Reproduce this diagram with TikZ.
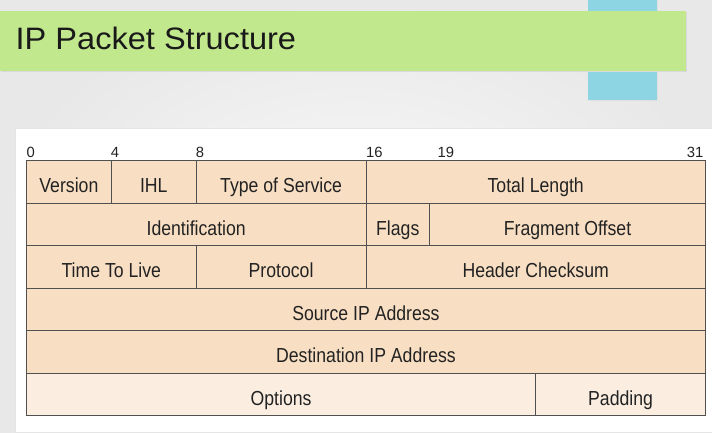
\documentclass[tikz,border=0pt]{standalone}
\usepackage{fontspec}
\setmainfont{Liberation Sans}
\newfontfamily\cellfont[FakeStretch=0.87]{Liberation Sans}
\newfontfamily\headfont[FakeStretch=1.05]{Liberation Sans}
\usetikzlibrary{positioning}

\definecolor{slidebg}{HTML}{E8E8E8}
\definecolor{slidemid}{HTML}{F8F8F8}
\definecolor{titlegreen}{HTML}{C2E88E}
\definecolor{accentblue}{HTML}{8ED5E3}
\definecolor{peach}{HTML}{F8DFC3}
\definecolor{lightpeach}{HTML}{FBEEE1}
\definecolor{cellline}{HTML}{505050}
\definecolor{celltext}{HTML}{222222}

% width of one bit column
\def\bw{21.21875}

\tikzset{
  cell/.style={draw=cellline, fill=peach, line width=0.9pt, anchor=north west,
    minimum height=42.5pt, inner sep=0pt, text height=22pt, text depth=0pt,
    text=celltext, font=\cellfont\fontsize{20.3pt}{24pt}\selectfont},
  optcell/.style={cell, fill=lightpeach},
  bitnum/.style={inner sep=0pt, text=celltext,
    font=\fontsize{14.8pt}{17pt}\selectfont},
  headline/.style={inner sep=0pt, text=black!90,
    font=\headfont\fontsize{31pt}{36pt}\selectfont},
}

\begin{document}
\begin{tikzpicture}[x=1pt, y=-1pt]
\useasboundingbox (0,0) rectangle (712,433);

% slide background
\shade[inner color=slidemid, outer color=slidebg] (0,0) rectangle (712,433);

% title band with accent strip behind it
\fill[black!12] (589,1) rectangle (658,101);
\fill[accentblue] (588,0) rectangle (657,100);
\fill[black!15] (1,12) rectangle (687,72.5);
\fill[titlegreen] (0,11) rectangle (686,71);
\node[headline, anchor=base west] (title) at (15.5,50) {IP Packet Structure};

% white panel holding the header layout
\fill[black!10] (15,128) rectangle (712,433);
\fill[white] (16,129) rectangle (712,431.5);

% bit positions
\node[bitnum, anchor=base west] (b0)  at (26.5,157.3) {0};
\node[bitnum, anchor=base west] (b4)  at (110.6,157.3) {4};
\node[bitnum, anchor=base west] (b8)  at (195.6,157.3) {8};
\node[bitnum, anchor=base west] (b16) at (366,157.3) {16};
\node[bitnum, anchor=base west] (b19) at (437.5,157.3) {19};
\node[bitnum, anchor=base east] (b31) at (703.5,157.3) {31};

% row 1
\node[cell, minimum width={4*\bw}]  (version) at ({26+0*\bw},160) {Version};
\node[cell, minimum width={4*\bw}]  (ihl)     at ({26+4*\bw},160) {IHL};
\node[cell, minimum width={8*\bw}]  (tos)     at ({26+8*\bw},160) {Type of Service};
\node[cell, minimum width={16*\bw}] (totlen)  at ({26+16*\bw},160) {Total Length};

% row 2
\node[cell, minimum width={16*\bw}] (ident)   at ({26+0*\bw},202.5) {Identification};
\node[cell, minimum width={3*\bw}]  (flags)   at ({26+16*\bw},202.5) {Flags};
\node[cell, minimum width={13*\bw}] (fragoff) at ({26+19*\bw},202.5) {Fragment Offset};

% row 3
\node[cell, minimum width={8*\bw}]  (ttl)     at ({26+0*\bw},245) {Time To Live};
\node[cell, minimum width={8*\bw}]  (proto)   at ({26+8*\bw},245) {Protocol};
\node[cell, minimum width={16*\bw}] (cksum)   at ({26+16*\bw},245) {Header Checksum};

% rows 4 and 5
\node[cell, minimum width={32*\bw}] (srcip)   at ({26+0*\bw},287.5) {Source IP Address};
\node[cell, minimum width={32*\bw}] (dstip)   at ({26+0*\bw},330) {Destination IP Address};

% row 6
\node[optcell, minimum width={24*\bw}] (options) at ({26+0*\bw},372.5) {Options};
\node[optcell, minimum width={8*\bw}]  (padding) at ({26+24*\bw},372.5) {Padding};

\end{tikzpicture}
\end{document}
